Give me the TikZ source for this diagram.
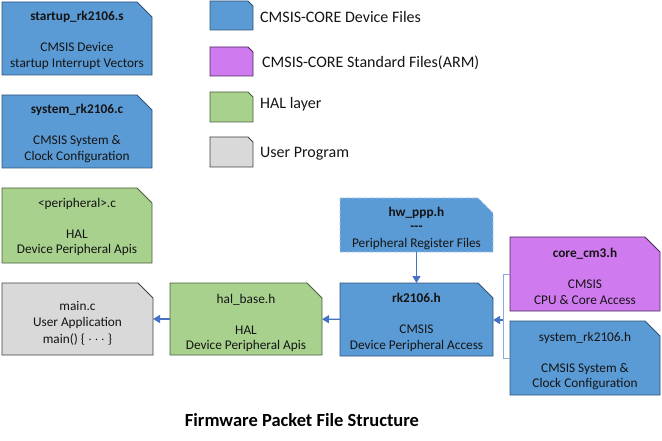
\documentclass[tikz,border=0pt]{standalone}
\usepackage{fontspec}
\setmainfont{Carlito}
\usetikzlibrary{arrows.meta}
\definecolor{bfill}{HTML}{5B9BD5}
\definecolor{bdraw}{HTML}{2F5377}
\definecolor{pfill}{HTML}{D07AF0}
\definecolor{pdraw}{HTML}{4A2A5A}
\definecolor{gfill}{HTML}{A9D18E}
\definecolor{gdraw}{HTML}{4A5E3C}
\definecolor{yfill}{HTML}{D9D9D9}
\definecolor{ydraw}{HTML}{404040}
\definecolor{dashc}{HTML}{A9C8EA}
\definecolor{arrowc}{HTML}{4472C4}
\definecolor{brackc}{HTML}{8EA9DB}
\definecolor{txt}{HTML}{141414}
\newcommand\fileshape[7]{%
  \node[boxarea, minimum width={(#5)-(#3)}, minimum height={(#6)-(#4)}] (#1) at ({((#3)+(#5))/2},{((#4)+(#6))/2}) {};
  \draw[#2] (#1.north west) -- ([xshift=-#7pt]#1.north east) -- ([yshift=-#7pt]#1.north east) -- (#1.south east) -- (#1.south west) -- cycle;
}
\begin{document}
\begin{tikzpicture}[x=1pt,y=-1pt,
  boxarea/.style={draw=none, inner sep=0pt, outer sep=0pt},
  bluebox/.style={fill=bfill, draw=bdraw, line width=0.9pt},
  dashbox/.style={fill=bfill, draw=dashc, line width=0.9pt, dashed},
  purplebox/.style={fill=pfill, draw=pdraw, line width=0.9pt},
  greenbox/.style={fill=gfill, draw=gdraw, line width=0.9pt},
  graybox/.style={fill=yfill, draw=ydraw, line width=0.9pt},
  boxtext/.style={anchor=north, align=center, inner sep=0pt, text=txt, font=\fontsize{13.3}{15.5}\selectfont},
  legtext/.style={anchor=west, inner sep=0pt, text=txt, font=\fontsize{16}{18}\selectfont},
  arr/.style={draw=arrowc, line width=1.3pt, -{Triangle[length=7pt,width=8pt]}},
  brack/.style={draw=brackc, line width=0.9pt}
]
\useasboundingbox (0,0) rectangle (662,441);

% left column
\fileshape{startup}{bluebox}{2}{2}{152}{75}{15}
\node[boxtext] (startupt) at ([yshift=-9pt]startup.north) {\textbf{startup\_rk2106.s}\\[15.5pt]CMSIS Device\\startup Interrupt Vectors};
\fileshape{sysc}{bluebox}{2}{95}{152}{168}{15}
\node[boxtext] (sysct) at ([yshift=-9pt]sysc.north) {\textbf{system\_rk2106.c}\\[15.5pt]CMSIS System \&\\Clock Configuration};
\fileshape{periph}{greenbox}{2}{188}{152}{263}{15}
\node[boxtext] (periprt) at ([yshift=-10pt]periph.north) {<peripheral>.c\\[15.5pt]HAL\\Device Peripheral Apis};

% legend
\fileshape{lg1}{bluebox}{210}{1}{253}{30}{5}
\node[legtext] (lt1) at (260,17) {CMSIS-CORE Device Files};
\fileshape{lg2}{purplebox}{210}{47}{253}{76}{5}
\node[legtext] (lt2) at (262,63) {CMSIS-CORE Standard Files(ARM)};
\fileshape{lg3}{greenbox}{210}{92}{253}{122}{5}
\node[legtext] (lt3) at (260,104) {HAL layer};
\fileshape{lg4}{graybox}{210}{137}{253}{167}{5}
\node[legtext] (lt4) at (260,154) {User Program};

% bottom row
\fileshape{main}{graybox}{2}{283}{153}{355}{15}
\node[boxtext, font=\fontsize{13.3}{16.5}\selectfont] (maint) at ([yshift=-18pt]main.north) {main.c\\User Application\\main() \{ $\cdots$ \}};
\fileshape{hal}{greenbox}{170}{283}{322}{355}{15}
\node[boxtext] (halt) at ([yshift=-11pt]hal.north) {hal\_base.h\\[15.5pt]HAL\\Device Peripheral Apis};
\fileshape{rk}{bluebox}{340}{283}{493}{356}{15}
\node[boxtext] (rkt) at ([yshift=-10pt]rk.north) {\textbf{rk2106.h}\\[15.5pt]CMSIS\\Device Peripheral Access};
\fileshape{hw}{dashbox}{340}{198}{493}{252}{15}
\node[boxtext, font=\fontsize{13.3}{14}\selectfont] (hwt) at ([yshift=-9pt]hw.north) {\textbf{hw\_ppp.h}\\\textbf{-{}-{}-}\\[3pt]Peripheral Register Files};
\fileshape{core}{purplebox}{510}{237}{660}{311}{15}
\node[boxtext] (coret) at ([yshift=-11pt]core.north) {\textbf{core\_cm3.h}\\[15.5pt]CMSIS\\CPU \& Core Access};
\fileshape{sysh}{bluebox}{510}{321}{660}{395}{15}
\node[boxtext] (sysht) at ([yshift=-11pt]sysh.north) {system\_rk2106.h\\[15.5pt]CMSIS System \&\\Clock Configuration};

% connectors
\draw[brack] (core.west) -- ++(-7,0) |- (sysh.west);
\coordinate (bm) at (503,320);
\draw[arr] (bm) -- (bm -| rk.east);
\draw[arr] (hw) -- (rk);
\draw[arr] (rk) -- (hal);
\draw[arr] (hal) -- (main);

\node[inner sep=0pt, text=black, font=\fontsize{18.5}{21}\selectfont\bfseries] (title) at (302,420) {Firmware Packet File Structure};
\end{tikzpicture}
\end{document}
